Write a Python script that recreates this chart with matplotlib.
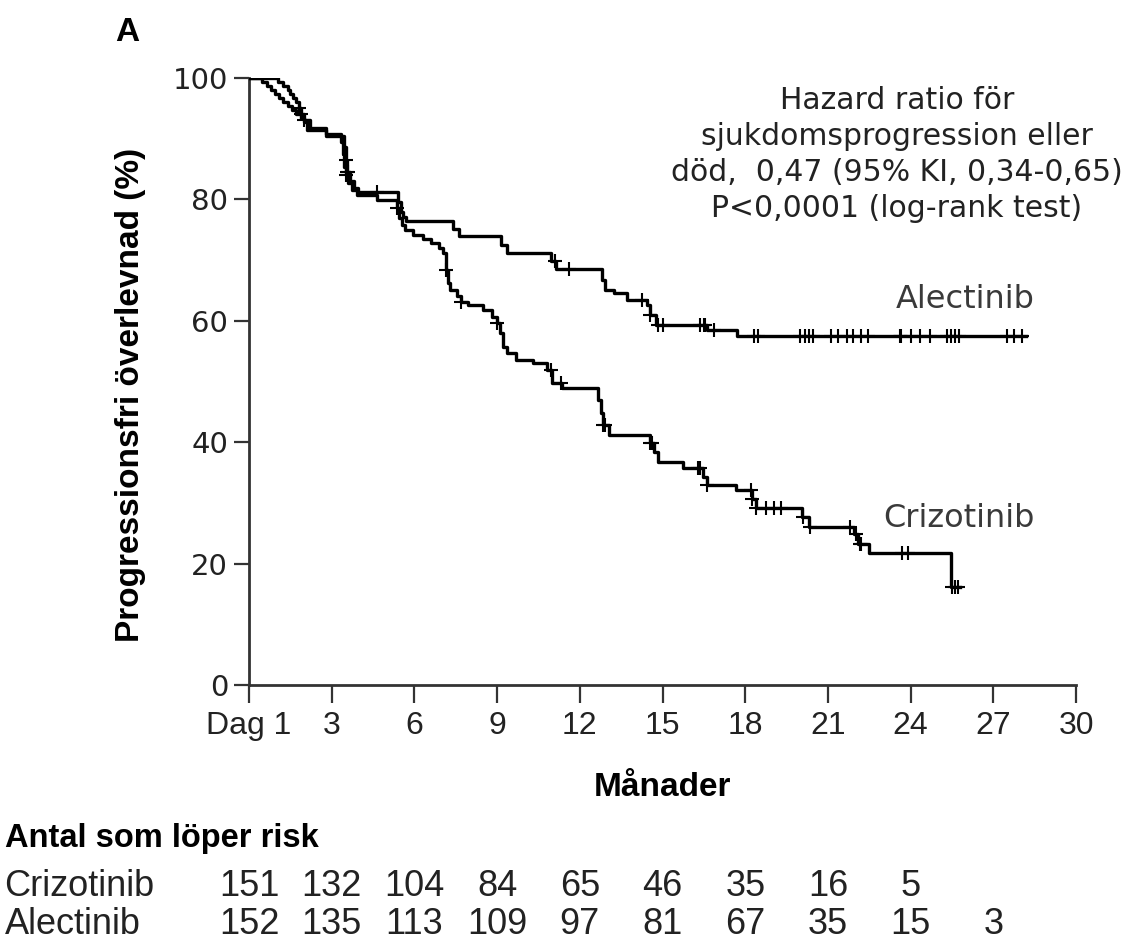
import numpy as np
import matplotlib
matplotlib.use("Agg")
import matplotlib.pyplot as plt
from matplotlib import font_manager as fm

# Kaplan-Meier data (months, % progression-free)

alec_t = [0, 1.05, 1.25, 1.4, 1.5, 1.6, 1.7, 1.8, 1.9, 2.0, 2.2, 2.8, 3.45, 3.5, 3.55,
          3.65, 3.8, 3.95, 5.4, 5.5, 5.6, 5.7, 7.4, 7.6, 9.15, 9.35, 10.95, 11.15,
          12.8, 12.9, 13.25, 13.7, 14.45, 14.55, 14.75, 16.6, 17.7]
alec_s = [100, 99.3, 98.7, 98.0, 97.4, 96.7, 96.0, 95.0, 94.0, 93.0, 91.8, 90.4, 88.6, 86.5, 84.5,
          83.0, 81.8, 81.2, 79.5, 78.0, 77.1, 76.5, 75.2, 74.0, 72.5, 71.2, 69.8, 68.5,
          66.7, 65.1, 64.6, 63.4, 62.6, 61.0, 59.3, 58.4, 57.5]
alec_end = 28.2
alec_cens = [1.8, 1.9, 2.0, 3.5, 3.55, 3.6, 4.65, 11.1, 11.6, 14.27, 14.55, 14.85, 15.0,
             16.35, 16.5, 16.55, 16.85, 18.3, 18.45, 20.0, 20.15, 20.3, 20.45, 21.1, 21.35,
             21.7, 21.9, 22.2, 22.45, 23.6, 23.65, 24.0, 24.35, 24.7, 25.3, 25.45, 25.6,
             25.75, 27.5, 27.75, 28.05]

criz_t = [0, 0.47, 0.65, 0.8, 0.95, 1.1, 1.25, 1.4, 1.55, 1.7, 1.9, 2.0, 2.1, 2.8, 3.35,
          3.4, 3.45, 3.5, 3.6, 3.75, 3.9, 4.65, 5.35, 5.45, 5.55, 5.65, 5.95, 6.3, 6.6,
          6.9, 7.05, 7.15, 7.2, 7.3, 7.55, 7.7, 7.95, 8.5, 8.8, 9.0, 9.1, 9.2, 9.35, 9.7,
          10.3, 10.8, 11.0, 11.35, 12.65, 12.75, 12.85, 13.05, 14.55, 14.7, 14.85, 15.75,
          16.45, 16.6, 17.65, 18.25, 18.4, 20.05, 20.3, 21.95, 22.1, 22.5, 25.45]
criz_s = [100, 99.3, 98.7, 98.0, 97.4, 96.7, 96.0, 95.4, 94.7, 94.0, 93.4, 92.7, 91.4, 90.7, 89.4,
          87.4, 85.4, 84.0, 82.7, 81.5, 80.8, 79.9, 78.5, 77.0, 75.8, 75.0, 74.1, 73.5, 72.8,
          72.0, 71.2, 68.4, 66.2, 65.1, 64.0, 63.1, 62.6, 61.8, 60.6, 59.6, 58.0, 55.7, 54.7, 53.5,
          53.0, 51.9, 49.8, 49.0, 47.0, 44.8, 42.8, 41.2, 39.8, 38.3, 36.7, 35.7,
          34.3, 32.9, 32.1, 30.6, 29.2, 27.7, 26.0, 24.8, 23.3, 21.7, 16.1]
criz_end = 25.8
criz_cens = [3.5, 5.35, 7.15, 7.7, 9.0, 10.95, 11.3, 12.85, 12.9, 14.55, 14.6, 16.3, 16.35,
             16.6, 18.2, 18.25, 18.4, 18.75, 19.05, 19.3, 20.1, 20.35, 21.8, 22.0, 22.15,
             22.2, 23.7, 23.9, 25.5, 25.6, 25.7]

# numbers at risk
risk_times = [0, 3, 6, 9, 12, 15, 18, 21, 24, 27]
risk_criz = [151, 132, 104, 84, 65, 46, 35, 16, 5]
risk_alec = [152, 135, 113, 109, 97, 81, 67, 35, 15, 3]

x_ticks = [0, 3, 6, 9, 12, 15, 18, 21, 24, 27, 30]
x_labels = ["Dag 1", "3", "6", "9", "12", "15", "18", "21", "24", "27", "30"]
y_ticks = [0, 20, 40, 60, 80, 100]


def have_font(name):
    try:
        fm.findfont(fm.FontProperties(family=name), fallback_to_default=False)
        return True
    except Exception:
        return False


narrow = "Liberation Sans Narrow" if have_font("Liberation Sans Narrow") else "Liberation Sans"
wide = "DejaVu Sans"
ink = "#222222"

fig = plt.figure(figsize=(11.32, 9.44), dpi=100)
ax = fig.add_axes([0.22, 0.2744, 0.7306, 0.643])


def km(ax, t, s, end, cens):
    tt = list(t) + [end]
    ss = list(s) + [s[-1]]
    ax.step(tt, ss, where="post", color="black", lw=2.4, zorder=3)
    idx = np.searchsorted(np.array(t), np.array(cens), side="right") - 1
    ax.plot(cens, np.array(s)[idx], ls="none", marker="+", ms=10, mew=1.5,
            color="black", zorder=4)


km(ax, alec_t, alec_s, alec_end, alec_cens)
km(ax, criz_t, criz_s, criz_end, criz_cens)

ax.set_xlim(0, 30)
ax.set_ylim(0, 100)
for side in ["top", "right"]:
    ax.spines[side].set_visible(False)
for side in ["left", "bottom"]:
    ax.spines[side].set_linewidth(2)
    ax.spines[side].set_color("#333333")

ax.set_yticks(y_ticks)
ax.set_yticklabels([str(v) for v in y_ticks], family=wide, fontsize=21, color=ink)
ax.tick_params(axis="y", length=11, width=1.6, color="#333333", pad=4)
ax.set_xticks(x_ticks)
ax.set_xticklabels(x_labels, family=narrow, fontsize=23, color=ink)
ax.tick_params(axis="x", length=13, width=1.6, color="#333333", pad=6)

ax.set_ylabel("Progressionsfri överlevnad (%)", family=narrow, fontweight="bold",
              fontsize=24, color="black")
ax.yaxis.set_label_coords(-0.125, 0.478)
ax.set_xlabel("Månader", family=narrow, fontweight="bold", fontsize=24, labelpad=22)

fig.text(0.112, 0.966, "A", family="Liberation Sans", fontweight="bold", fontsize=24,
         va="center", ha="center")

ax.text(23.5, 98.6, "Hazard ratio för\nsjukdomsprogression eller\n"
        "död,  0,47 (95% KI, 0,34-0,65)\nP<0,0001 (log-rank test)",
        family=wide, fontsize=21.5, ha="center", va="top", linespacing=1.3, color=ink)

ax.text(28.5, 63.5, "Alectinib", family=wide, fontsize=23, ha="right", va="center",
        color="#3a3a3a")
ax.text(28.5, 27.5, "Crizotinib", family=wide, fontsize=23, ha="right", va="center",
        color="#3a3a3a")

# number at risk table
fig.text(0.004, 1 - 839 / 944, "Antal som löper risk", family=narrow, fontweight="bold",
         fontsize=23.5, va="center", ha="left")
row_y = [1 - 887 / 944, 1 - 925 / 944]
for name, counts, y in [("Crizotinib", risk_criz, row_y[0]), ("Alectinib", risk_alec, row_y[1])]:
    fig.text(0.004, y, name, family=narrow, fontsize=26, va="center", ha="left", color=ink)
    for tm, n in zip(risk_times, counts):
        xf = ax.transData.transform((tm, 0))[0] / fig.bbox.width
        fig.text(xf, y, str(n), family=narrow, fontsize=26, va="center", ha="center",
                 color=ink)

fig.savefig("out.png", dpi=100)
